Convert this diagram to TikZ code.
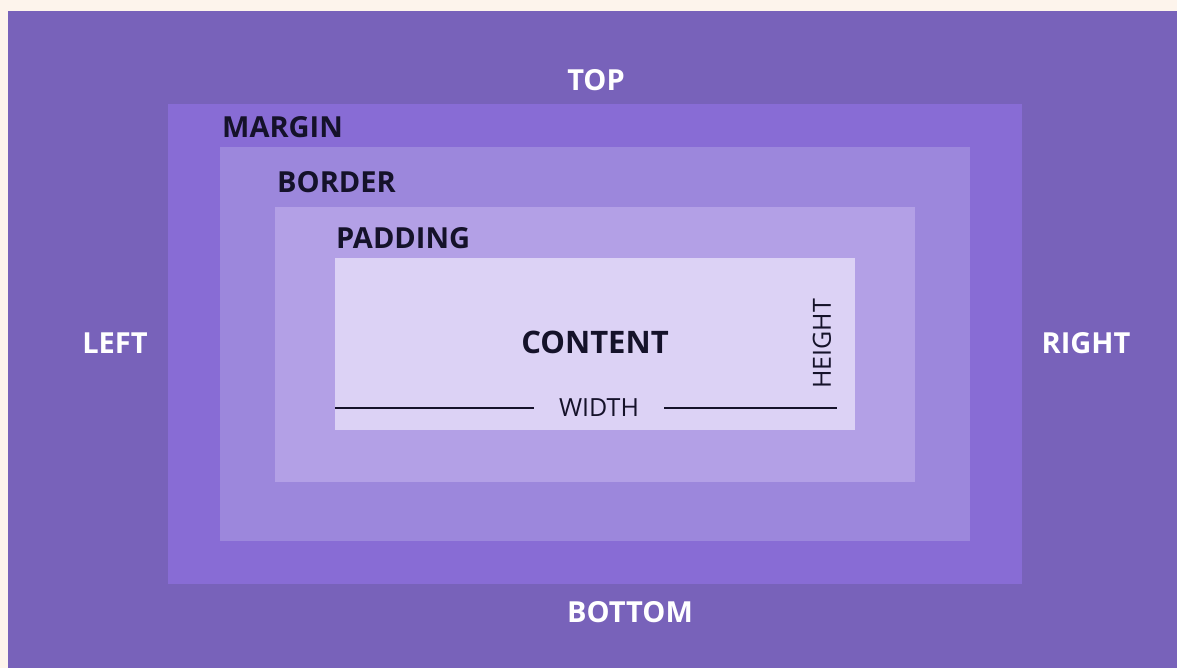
\documentclass[tikz,border=0pt]{standalone}
\usepackage{fontspec}
\setmainfont{Open Sans}
\definecolor{cream}{HTML}{FDF4EC}
\definecolor{outerc}{HTML}{7862BA}
\definecolor{marginc}{HTML}{886CD5}
\definecolor{borderc}{HTML}{9C87DC}
\definecolor{paddingc}{HTML}{B3A0E6}
\definecolor{contentc}{HTML}{DCD2F5}
\definecolor{inkc}{HTML}{15122A}
\tikzset{
  whitelbl/.style={text=white,font=\fontsize{29}{30}\selectfont\bfseries,inner sep=0pt},
  darklbl/.style={text=inkc,font=\fontsize{29}{30}\selectfont\bfseries,inner sep=0pt,anchor=west},
  dimlbl/.style={text=inkc,font=\fontsize{25}{26}\selectfont,inner sep=0pt},
  dimline/.style={draw=inkc,line width=1.3pt}
}
\begin{document}
\begin{tikzpicture}[x=1pt,y=-1pt]
\useasboundingbox (0,0) rectangle (1177,668);
\fill[cream] (0,0) rectangle (1177,668);
\fill[outerc] (8,11) rectangle (1177,668);
\fill[marginc] (168,104) rectangle (1022,584);
\fill[borderc] (220,147) rectangle (970,541);
\fill[paddingc] (275,207) rectangle (915,482);
\fill[contentc] (335,258) rectangle (855,430);
\node[whitelbl] (top) at (596,80) {TOP};
\node[whitelbl] (bottom) at (630,612) {BOTTOM};
\node[whitelbl] (left) at (115,343) {LEFT};
\node[whitelbl] (right) at (1086,343) {RIGHT};
\node[darklbl] (margin) at (222,127) {MARGIN};
\node[darklbl] (border) at (277,182) {BORDER};
\node[darklbl] (padding) at (336,238) {PADDING};
\node[text=inkc,font=\fontsize{31}{32}\selectfont\bfseries,inner sep=0pt] (content) at (595,342) {CONTENT};
\node[dimlbl] (width) at (599,408) {WIDTH};
\node[dimlbl,rotate=90] (height) at (822,344) {HEIGHT};
\coordinate (wl) at (335,408);
\coordinate (wr) at (837,408);
\draw[dimline] (wl) -- ([xshift=-25pt]width.west |- wl);
\draw[dimline] ([xshift=25pt]width.east |- wr) -- (wr);
\end{tikzpicture}
\end{document}
